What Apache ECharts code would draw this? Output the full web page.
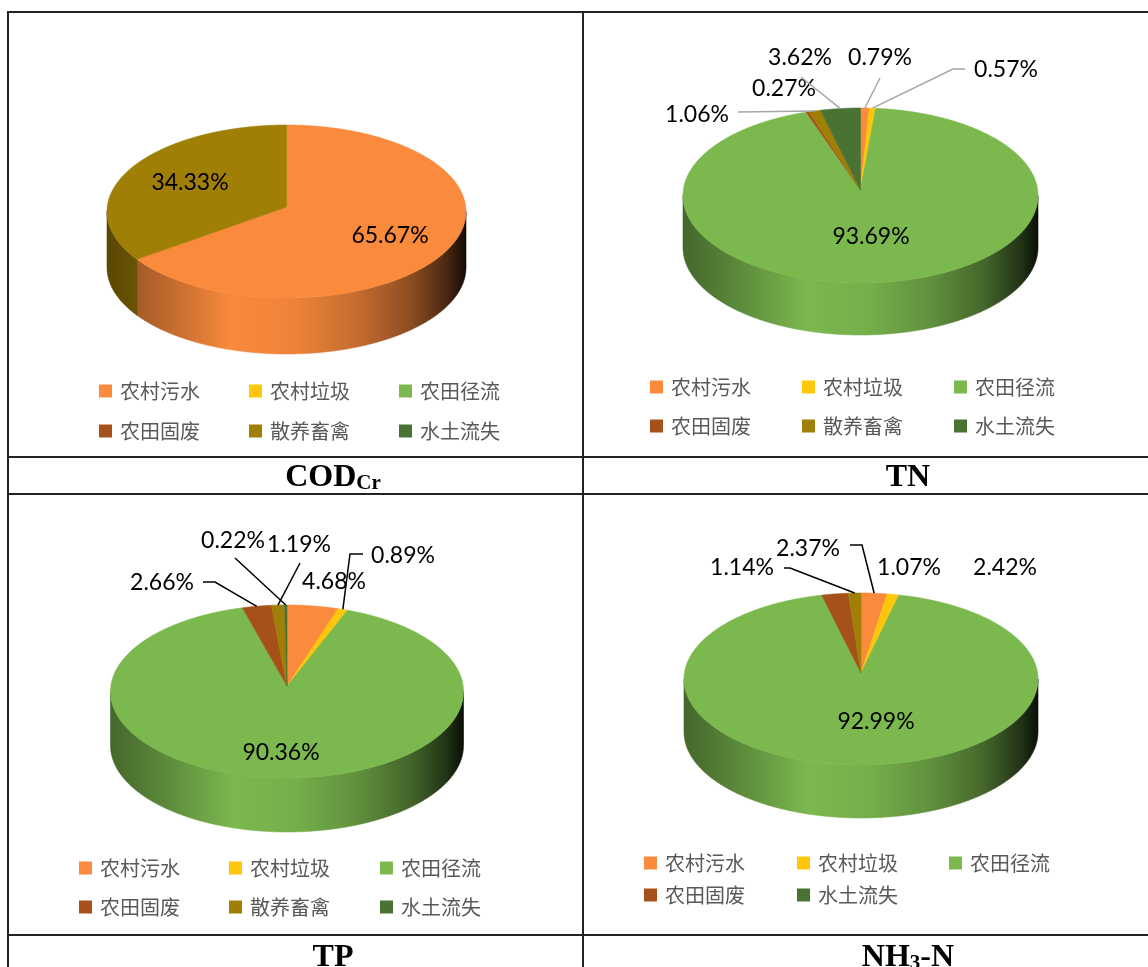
<!DOCTYPE html>
<html><head><meta charset="utf-8">
<script src="https://cdn.jsdelivr.net/npm/echarts@6/dist/echarts.min.js"></script>
<style>html,body{margin:0;padding:0;background:#fff;} #chart{width:1148px;height:967px;}</style>
</head><body><div id="chart"></div>
<script>
// ---------- data ----------
const categories = ['农村污水', '农村垃圾', '农田径流', '农田固废', '散养畜禽', '水土流失'];
const codValues = [65.67, 0, 0, 0, 34.33, 0];
const tnValues  = [0.79, 0.57, 93.69, 0.27, 1.06, 3.62];
const tpValues  = [4.68, 0.89, 90.36, 2.66, 1.19, 0.22];
const nh3Values = [2.37, 1.07, 92.99, 2.42, null, 1.14];
const panelTitles = ['{m|COD}{s1|Cr}', '{m|TN}', '{m|TP}', '{m|NH}{s2|3}{m|-N}'];

// ---------- styles / layout ----------
const categoryColors = ['#FA8A3C', '#FFC60B', '#7BB84E', '#A7511A', '#A07F07', '#4A7232'];
const wallStops = [[0, 0.56], [0.12, 0.7], [0.35, 1.0], [0.52, 0.95], [0.7, 0.78], [0.85, 0.55], [0.95, 0.28], [1, 0.08]];

const panels = [
  { values: codValues, cx: 286.5, cy: 211.5, rx: 179.5, ry: 86.5, depth: 56, apexDy: -4.5,
    leaderColor: '#A6A6A6',
    labels: { 0: { x: 390, y: 236 }, 4: { x: 190, y: 183 } },
    legendX: [99, 249, 399], legendY: [391, 431], legendItems: [0, 1, 2, 3, 4, 5],
    title: { x: 333, y: 476 } },
  { values: tnValues, cx: 860.5, cy: 195.5, rx: 177.5, ry: 87.5, depth: 52, apexDy: -5.5,
    leaderColor: '#A6A6A6',
    labels: { 0: { x: 880, y: 58, line: [[880, 78]] },
              1: { x: 1006, y: 70, line: [[965, 69], [953, 69]] },
              2: { x: 871, y: 237 },
              3: { x: 784, y: 89 },
              4: { x: 697, y: 115, line: [[738, 112]] },
              5: { x: 800, y: 58, line: [[801, 77]] } },
    legendX: [650, 802, 954], legendY: [387, 426], legendItems: [0, 1, 2, 3, 4, 5],
    title: { x: 908, y: 476 } },
  { values: tpValues, cx: 287, cy: 691.5, rx: 176.5, ry: 86.5, depth: 54, apexDy: -5.5,
    leaderColor: '#000000',
    labels: { 0: { x: 334, y: 582 },
              1: { x: 403, y: 556, line: [[363, 554], [350, 554]] },
              2: { x: 281, y: 753 },
              3: { x: 162, y: 583, line: [[203, 582], [215, 582]] },
              4: { x: 299, y: 545, line: [[300, 563]] },
              5: { x: 233, y: 541, line: [[235, 558]] } },
    legendX: [79, 229, 380], legendY: [868, 907], legendItems: [0, 1, 2, 3, 4, 5],
    title: { x: 333, y: 956 } },
  { values: nh3Values, cx: 861, cy: 679, rx: 177, ry: 86, depth: 53, apexDy: -6,
    leaderColor: '#000000', sliceColors: { 5: '#A07F07' },
    labels: { 0: { x: 808, y: 549, line: [[850, 545], [862, 545]] },
              1: { x: 909, y: 568 },
              2: { x: 876, y: 722 },
              3: { x: 1005, y: 568 },
              5: { x: 742, y: 568, line: [[784, 568], [790, 568]] } },
    legendX: [644, 797, 949], legendY: [863, 895], legendItems: [0, 1, 2, 3, 5],
    title: { x: 908, y: 956 } }
];

function shade(hex, k) {
  const n = parseInt(hex.slice(1), 16);
  const f = c => Math.max(0, Math.min(255, Math.round(c * k)));
  return 'rgb(' + f(n >> 16 & 255) + ',' + f(n >> 8 & 255) + ',' + f(n & 255) + ')';
}

function makeRenderItem(panel, idx) {
  return function (params, api) {
    const v = api.value(0);
    if (!(v > 0)) return { type: 'group', children: [] };
    const vals = panel.values.map(x => x || 0);
    const total = vals.reduce((a, b) => a + b, 0);
    let before = 0;
    for (let i = 0; i < idx; i++) before += vals[i];
    const t0 = before / total * 2 * Math.PI;
    const t1 = (before + v) / total * 2 * Math.PI;
    const { cx, cy, rx, ry, depth, apexDy } = panel;
    const pt = (t, dy) => [cx + rx * Math.sin(t), cy - ry * Math.cos(t) + (dy || 0)];
    const arc = (a, b, dy) => {
      const n = Math.max(2, Math.ceil((b - a) / 0.004));
      const out = [];
      for (let k = 0; k <= n; k++) out.push(pt(a + (b - a) * k / n, dy));
      return out;
    };
    const color = (panel.sliceColors && panel.sliceColors[idx]) || categoryColors[idx];
    const children = [];
    const w0 = Math.max(t0, Math.PI / 2), w1 = Math.min(t1, 1.5 * Math.PI);
    if (w1 > w0) {
      const pts = arc(w0, w1, 0).concat(arc(w0, w1, depth).reverse());
      const grad = { type: 'linear', x: cx - rx, y: 0, x2: cx + rx, y2: 0, global: true,
        colorStops: wallStops.map(s => ({ offset: s[0], color: shade(color, s[1]) })) };
      children.push({ type: 'polygon', shape: { points: pts }, style: { fill: grad, stroke: grad, lineWidth: 0.6 } });
    }
    const top = [[cx, cy + apexDy]].concat(arc(t0, t1, 0));
    children.push({ type: 'polygon', shape: { points: top }, style: { fill: color, stroke: color, lineWidth: 0.6 } });
    const lab = panel.labels[idx];
    if (lab) {
      if (lab.line) {
        const tm = (t0 + t1) / 2;
        children.push({ type: 'polyline', shape: { points: lab.line.concat([pt(tm)]) },
          style: { stroke: panel.leaderColor, lineWidth: 1.5, fill: 'none' } });
      }
      children.push({ type: 'text', x: lab.x, y: lab.y,
        style: { text: v.toFixed(2) + '%', fill: '#000', font: '23px Lato, "Open Sans", sans-serif', align: 'center', verticalAlign: 'middle' } });
    }
    return { type: 'group', children: children };
  };
}

const series = [];
panels.forEach((p, pi) => {
  categories.forEach((name, ci) => {
    series.push({
      type: 'custom', name: name, coordinateSystem: 'none', silent: true,
      itemStyle: { color: categoryColors[ci] },
      renderItem: makeRenderItem(p, ci),
      data: [[p.values[ci] == null ? NaN : p.values[ci]]]
    });
  });
});

const legends = [];
panels.forEach(p => {
  p.legendItems.forEach((ci, k) => {
    const col = k % 3, row = Math.floor(k / 3);
    legends.push({
      data: [{ name: categories[ci], itemStyle: { color: categoryColors[ci] } }],
      left: p.legendX[col], top: p.legendY[row] - 10,
      itemWidth: 13, itemHeight: 13, icon: 'rect', selectedMode: false, padding: 0,
      textStyle: { fontSize: 20, lineHeight: 20, color: '#595959', fontFamily: '"Noto Sans CJK SC", sans-serif', padding: [0, 0, 0, 3] }
    });
  });
});

const lineStyle = { stroke: '#222', lineWidth: 2 };
const graphics = [
  { type: 'line', shape: { x1: 8, y1: 12, x2: 8, y2: 967 }, style: lineStyle },
  { type: 'line', shape: { x1: 583, y1: 12, x2: 583, y2: 967 }, style: lineStyle },
  { type: 'line', shape: { x1: 7, y1: 12, x2: 1148, y2: 12 }, style: lineStyle },
  { type: 'line', shape: { x1: 7, y1: 457, x2: 1148, y2: 457 }, style: lineStyle },
  { type: 'line', shape: { x1: 7, y1: 494, x2: 1148, y2: 494 }, style: lineStyle },
  { type: 'line', shape: { x1: 7, y1: 935, x2: 1148, y2: 935 }, style: lineStyle }
];
const titleRich = {
  m: { fontSize: 32, fontWeight: 'bold', fontFamily: '"Liberation Serif", serif', lineHeight: 36, verticalAlign: 'bottom', fill: '#000' },
  s1: { fontSize: 21, fontWeight: 'bold', fontFamily: '"Liberation Serif", serif', lineHeight: 26, verticalAlign: 'bottom', fill: '#000' },
  s2: { fontSize: 21, fontWeight: 'bold', fontFamily: '"Liberation Serif", serif', lineHeight: 20, verticalAlign: 'bottom', fill: '#000' }
};
panels.forEach((p, pi) => {
  graphics.push({ type: 'text', x: p.title.x, y: p.title.y,
    style: { text: panelTitles[pi], rich: titleRich, align: 'center', verticalAlign: 'middle', fill: '#000',
             font: 'bold 32px "Liberation Serif", serif' } });
});

const chart = echarts.init(document.getElementById('chart'));
chart.setOption({
  animation: false,
  backgroundColor: '#fff',
  legend: legends,
  graphic: graphics,
  series: series
});
</script>
</body></html>
